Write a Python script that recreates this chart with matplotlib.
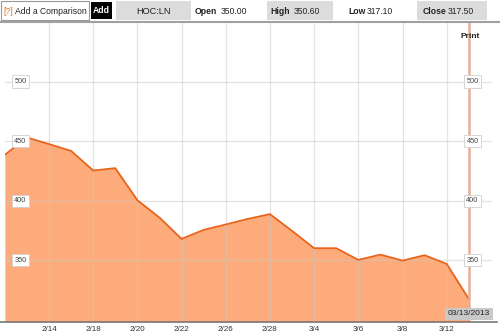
import matplotlib
matplotlib.use("Agg")
import matplotlib.pyplot as plt
from matplotlib.patches import Rectangle
from matplotlib.lines import Line2D
from matplotlib.transforms import blended_transform_factory

plt.rcParams['font.family'] = ['Liberation Sans', 'DejaVu Sans']

# HOC:LN daily closes, 2/12/2013 - 3/13/2013
dates = ["2/12", "2/13", "2/14", "2/15", "2/18", "2/19", "2/20", "2/21",
         "2/22", "2/25", "2/26", "2/27", "2/28", "3/1", "3/4", "3/5",
         "3/6", "3/7", "3/8", "3/11", "3/12", "3/13"]
closes = [438.5, 453.0, 447.5, 441.8, 425.3, 427.3, 400.4, 385.8,
          367.9, 375.5, 380.0, 384.7, 388.7, 374.6, 360.1, 360.1,
          350.3, 354.7, 349.7, 354.2, 346.9, 317.5]
tick_labels = ["2/14", "2/18", "2/20", "2/22", "2/26", "2/28",
               "3/4", "3/6", "3/8", "3/12"]
yticks = [350, 400, 450, 500]

W, H = 500, 336
fig = plt.figure(figsize=(5, 3.36), dpi=100)
fig.patch.set_facecolor("white")

def fx(px):
    return px / W

def fy(py):
    return 1 - py / H

ax = fig.add_axes([fx(4.8), fy(321.7), fx(492) - fx(4.8), fy(22) - fy(321.7)])
x = list(range(len(closes)))
ax.fill_between(x, closes, 298.4, color="#fdab7a", lw=0, zorder=1)
ax.plot(x, closes, color="#e8641c", lw=1.3, zorder=3)
ax.set_xlim(0, 22.05)
ax.set_ylim(298.4, 550)

ax.set_xticks([dates.index(d) for d in tick_labels])
ax.set_xticklabels(tick_labels, fontsize=5.8, color="#333333")
ax.set_yticks(yticks)
ax.set_yticklabels([])
ax.tick_params(length=0, pad=3)
ax.set_axisbelow(False)
ax.grid(True, color="#c8c8c8", alpha=0.5, lw=0.9)
for s in ax.spines.values():
    s.set_visible(False)

# crosshair at last date
ax.axvline(21, color="#e9ae97", lw=1.8, zorder=4)

tr = blended_transform_factory(ax.transAxes, ax.transData)
for t in yticks:
    for xa in (0.032, 0.96):
        ax.text(xa, t, str(t), transform=tr, ha="center", va="center",
                fontsize=5.3, color="#444444", zorder=5,
                bbox=dict(boxstyle="square,pad=0.35", fc="white", ec="#d0d0d0", lw=0.6))

# bottom axis line
fig.add_artist(Line2D([0, fx(497)], [fy(321.7), fy(321.7)], color="#777777", lw=1.2))

fig.text(fx(470), fy(37), "Print", ha="center", va="center", fontsize=6,
         fontweight="bold", color="#222222", zorder=6)
fig.text(fx(469), fy(313.5), "03/13/2013", ha="center", va="center", fontsize=6,
         color="#222222", zorder=6,
         bbox=dict(boxstyle="square,pad=0.3", fc="#c9c9c9", ec="none"))

# header bar
def rect(x0, y0, x1, y1, fc, ec="none"):
    fig.add_artist(Rectangle((fx(x0), fy(y1)), fx(x1) - fx(x0), fy(y0) - fy(y1),
                             transform=fig.transFigure, fc=fc, ec=ec, lw=0.8))

hs = 6.2
tc = "#222222"
rect(0.5, 1, 89, 20, "white", "#999999")
fig.text(fx(3), fy(11), "[?]", va="center", fontsize=hs, color="#e07020")
fig.text(fx(15), fy(11), "Add a Comparison", va="center", fontsize=hs, color=tc)
rect(91, 2, 112, 19, "black")
fig.text(fx(101.5), fy(10.5), "Add", ha="center", va="center", fontsize=hs,
         fontweight="bold", color="white")
rect(116, 1, 191, 20, "#dcdcdc")
fig.text(fx(153.5), fy(11), "HOC:LN", ha="center", va="center", fontsize=6.6, color=tc)
fig.text(fx(195), fy(11), "Open", va="center", fontsize=hs, fontweight="bold", color=tc)
fig.text(fx(220.5), fy(11), "350.00", va="center", fontsize=hs, color=tc)
rect(267, 1, 333, 20, "#dcdcdc")
fig.text(fx(270.5), fy(11), "High", va="center", fontsize=hs, fontweight="bold", color=tc)
fig.text(fx(293.5), fy(11), "350.60", va="center", fontsize=hs, color=tc)
fig.text(fx(348), fy(11), "Low", va="center", fontsize=hs, fontweight="bold", color=tc)
fig.text(fx(367), fy(11), "317.10", va="center", fontsize=hs, color=tc)
rect(416.5, 1, 487, 20, "#dcdcdc")
fig.text(fx(423), fy(11), "Close", va="center", fontsize=hs, fontweight="bold", color=tc)
fig.text(fx(448), fy(11), "317.50", va="center", fontsize=hs, color=tc)
fig.add_artist(Line2D([0, 1], [fy(22), fy(22)], color="#a0a0a0", lw=1.5))

fig.savefig("out.png", dpi=100)
